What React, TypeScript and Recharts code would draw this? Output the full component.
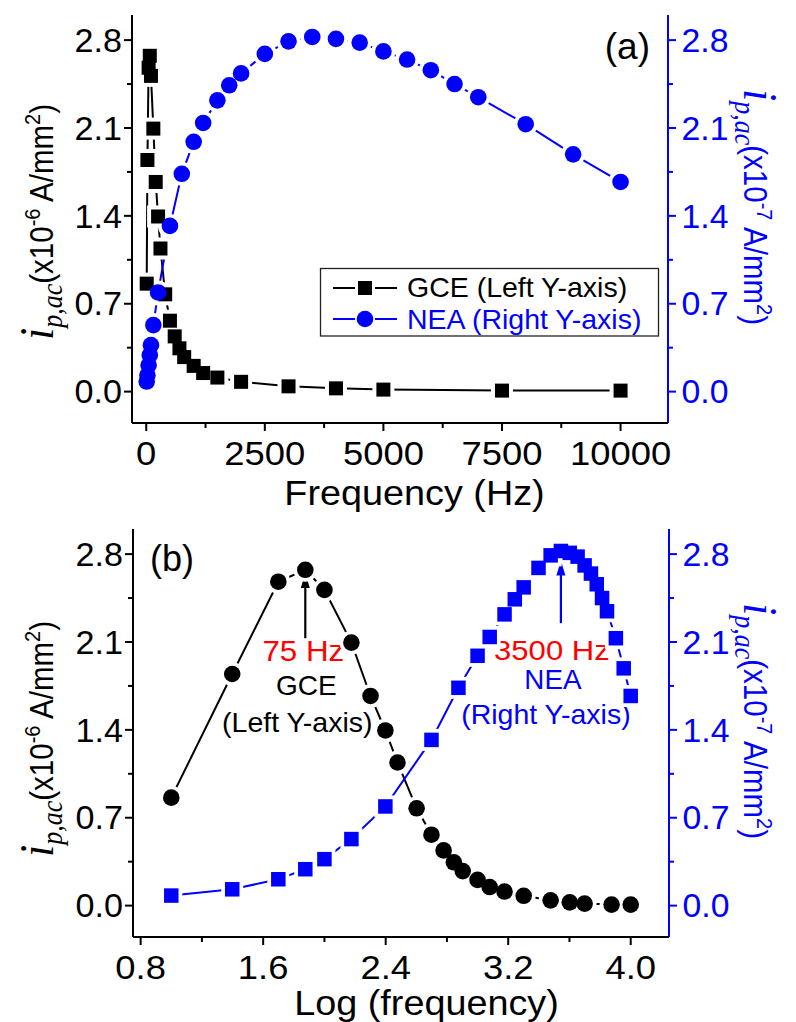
import { LineChart, Line, XAxis, YAxis, ReferenceLine } from "recharts";

const SANS = '"Liberation Sans", Arial, sans-serif';
const SERIF = '"Liberation Serif", "Times New Roman", serif';
const BLACK = "#000000";
const BLUE = "#0000ff";
const RED = "#ff0000";

// GCE electrode, left axis (x10^-6 A/mm2)
const gceFreq = [10, 25, 50, 75, 100, 150, 200, 250, 300, 400, 500, 600, 700, 800, 1000, 1200, 1500, 2000, 3000, 4000, 5000, 7500, 10000];
const gceCurrent = [0.86, 1.845, 2.58, 2.675, 2.515, 2.095, 1.67, 1.395, 1.14, 0.775, 0.565, 0.44, 0.345, 0.275, 0.205, 0.148, 0.112, 0.078, 0.042, 0.026, 0.016, 0.008, 0.008];

// NEA electrode, right axis (x10^-7 A/mm2)
const neaFreq = [10, 25, 50, 75, 100, 150, 250, 500, 750, 1000, 1200, 1500, 1750, 2000, 2500, 3000, 3500, 4000, 4500, 5000, 5500, 6000, 6500, 7000, 8000, 9000, 10000];
const neaCurrent = [0.08, 0.13, 0.21, 0.29, 0.37, 0.53, 0.79, 1.32, 1.735, 1.99, 2.14, 2.32, 2.44, 2.535, 2.69, 2.79, 2.825, 2.81, 2.78, 2.71, 2.645, 2.56, 2.45, 2.345, 2.13, 1.89, 1.67];

// ticks (blank label = minor tick)
const freqTicks = [0, 1250, 2500, 3750, 5000, 6250, 7500, 8750, 10000];
const freqLabels = ["0", "", "2500", "", "5000", "", "7500", "", "10000"];
const logTicks = [0.8, 1.2, 1.6, 2.0, 2.4, 2.8, 3.2, 3.6, 4.0];
const logLabels = ["0.8", "", "1.6", "", "2.4", "", "3.2", "", "4.0"];
const currentTicks = [0, 0.35, 0.7, 1.05, 1.4, 1.75, 2.1, 2.45, 2.8];
const currentLabels = ["0.0", "", "0.7", "", "1.4", "", "2.1", "", "2.8"];

// peak markers in panel (b): [frequency, arrow base, arrow tip]
const gcePeak = [75, 2.13, 2.65];
const neaPeak = [3500, 2.25, 2.75];

const currentDomain: [number, number] = [-0.25, 3.0];
const freqDomain: [number, number] = [-300, 11000];
const logDomain: [number, number] = [0.75, 4.25];

const topGce = gceFreq.map((f, i) => ({ x: f, y: gceCurrent[i] }));
const topNea = neaFreq.map((f, i) => ({ x: f, y: neaCurrent[i] }));
const logGce = gceFreq.map((f, i) => ({ x: Math.log10(f), y: gceCurrent[i] }));
const logNea = neaFreq.map((f, i) => ({ x: Math.log10(f), y: neaCurrent[i] }));

type Side = "top" | "bottom" | "left" | "right";

function makeTick(side: Side, ticks: number[], labels: string[], color: string, showText = true) {
  return (props: any) => {
    const { x, y, payload } = props;
    const i = ticks.findIndex((t) => Math.abs(t - payload.value) < 1e-6);
    const label = i >= 0 ? labels[i] : "";
    const len = label ? 8 : 5;
    const txt = { fill: color, fontFamily: SANS, fontSize: 32.5 };
    if (side === "bottom" || side === "top") {
      return (
        <g>
          <line x1={x} x2={x} y1={y} y2={y + len} stroke={color} strokeWidth={2} />
          {showText && label && (
            <text transform={`translate(${x},${y + 42}) scale(1.12,1)`} textAnchor="middle" {...txt}>
              {label}
            </text>
          )}
        </g>
      );
    }
    if (side === "left") {
      return (
        <g>
          <line x1={x - len} x2={x} y1={y} y2={y} stroke={color} strokeWidth={2} />
          {label && (
            <text transform={`translate(${x - 10},${y + 11.7}) scale(1.05,1)`} textAnchor="end" {...txt}>
              {label}
            </text>
          )}
        </g>
      );
    }
    return (
      <g>
        <line x1={x} x2={x + len} y1={y} y2={y} stroke={color} strokeWidth={2} />
        {label && (
          <text transform={`translate(${x + 13.5},${y + 11.7}) scale(1.04,1)`} textAnchor="start" {...txt}>
            {label}
          </text>
        )}
      </g>
    );
  };
}

const squareDot = (size: number, fill: string) => (p: any) =>
  p.cx == null ? (
    <g key={`e${p.index}`} />
  ) : (
    <rect key={`s${p.index}`} x={p.cx - size / 2} y={p.cy - size / 2} width={size} height={size} fill={fill} />
  );

const circleDot = (r: number, fill: string) => (p: any) =>
  p.cx == null ? <g key={`e${p.index}`} /> : <circle key={`c${p.index}`} cx={p.cx} cy={p.cy} r={r} fill={fill} />;

interface Note {
  text: string;
  color: string;
  dx: number;
  dy: number;
  size: number;
  sx: number;
}

const gceNotes: Note[] = [
  { text: "75 Hz", color: RED, dx: -2, dy: 23, size: 29, sx: 1.08 },
  { text: "GCE", color: BLACK, dx: 1, dy: 57, size: 27.5, sx: 1.02 },
  { text: "(Left Y-axis)", color: BLACK, dx: -8, dy: 94, size: 28.5, sx: 1 },
];
const neaNotes: Note[] = [
  { text: "3500 Hz", color: RED, dx: -9, dy: 37, size: 28.5, sx: 1.09 },
  { text: "NEA", color: BLUE, dx: -8, dy: 66, size: 27, sx: 1.03 },
  { text: "(Right Y-axis)", color: BLUE, dx: -15, dy: 101, size: 28.5, sx: 1 },
];

const arrowShape = (color: string, notes: Note[]) => (p: any) => {
  const x = p.x1;
  const tip = Math.min(p.y1, p.y2);
  const base = Math.max(p.y1, p.y2);
  return (
    <g>
      <line x1={x} x2={x} y1={base} y2={tip + 10} stroke={color} strokeWidth={2.2} />
      <polygon points={`${x},${tip} ${x - 4.5},${tip + 15} ${x + 4.5},${tip + 15}`} fill={color} />
      {notes.map((n) => (
        <text
          key={n.text}
          transform={`translate(${x + n.dx},${base + n.dy}) scale(${n.sx},1)`}
          textAnchor="middle"
          fill={n.color}
          fontFamily={SANS}
          fontSize={n.size}
        >
          {n.text}
        </text>
      ))}
    </g>
  );
};

function Panel(props: {
  height: number;
  top: number;
  xHeight: number;
  leftW: number;
  rightW: number;
  xDomain: [number, number];
  xTicks: number[];
  xLabels: string[];
  gce: { x: number; y: number }[];
  nea: { x: number; y: number }[];
  gceSquare: boolean;
  arrows?: boolean;
}) {
  const { height, top, xHeight, leftW, rightW, xDomain, xTicks, xLabels, gce, nea, gceSquare, arrows } = props;
  const gceHalo = gceSquare ? squareDot(22, "#fff") : circleDot(12, "#fff");
  const neaHalo = gceSquare ? circleDot(12, "#fff") : squareDot(22, "#fff");
  const gceMark = gceSquare ? squareDot(14, BLACK) : circleDot(8.3, BLACK);
  const neaMark = gceSquare ? circleDot(8.3, BLUE) : squareDot(14.5, BLUE);
  return (
    <LineChart width={796} height={height} margin={{ top, right: 0, bottom: 0, left: 0 }}>
      <XAxis
        xAxisId="b"
        dataKey="x"
        type="number"
        domain={xDomain}
        allowDataOverflow
        ticks={xTicks}
        interval={0}
        tickSize={0}
        tickMargin={0}
        tickLine={false}
        tick={makeTick("bottom", xTicks, xLabels, BLACK)}
        axisLine={{ stroke: BLACK, strokeWidth: 2 }}
        height={xHeight}
      />
      <XAxis
        xAxisId="t"
        orientation="top"
        dataKey="x"
        type="number"
        domain={xDomain}
        allowDataOverflow
        ticks={xTicks}
        interval={0}
        tickSize={0}
        tickMargin={0}
        tickLine={false}
        tick={makeTick("top", xTicks, xLabels, BLACK, false)}
        axisLine={{ stroke: BLACK, strokeWidth: 2 }}
        height={0}
      />
      <YAxis
        yAxisId="l"
        type="number"
        domain={currentDomain}
        allowDataOverflow
        ticks={currentTicks}
        interval={0}
        tickSize={0}
        tickMargin={0}
        tickLine={false}
        tick={makeTick("left", currentTicks, currentLabels, BLACK)}
        axisLine={{ stroke: BLACK, strokeWidth: 2 }}
        width={leftW}
      />
      <YAxis
        yAxisId="r"
        orientation="right"
        type="number"
        domain={currentDomain}
        allowDataOverflow
        ticks={currentTicks}
        interval={0}
        tickSize={0}
        tickMargin={0}
        tickLine={false}
        tick={makeTick("right", currentTicks, currentLabels, BLUE)}
        axisLine={{ stroke: BLUE, strokeWidth: 2 }}
        width={rightW}
      />
      <Line xAxisId="b" yAxisId="l" data={gce} dataKey="y" stroke={BLACK} strokeWidth={2} dot={gceHalo} activeDot={false} isAnimationActive={false} />
      <Line xAxisId="b" yAxisId="r" data={nea} dataKey="y" stroke={BLUE} strokeWidth={2} dot={neaHalo} activeDot={false} isAnimationActive={false} />
      <Line xAxisId="b" yAxisId="l" data={gce} dataKey="y" stroke="none" dot={gceMark} activeDot={false} isAnimationActive={false} />
      <Line xAxisId="b" yAxisId="r" data={nea} dataKey="y" stroke="none" dot={neaMark} activeDot={false} isAnimationActive={false} />
      {arrows && (
        <ReferenceLine
          xAxisId="b"
          yAxisId="l"
          segment={[
            { x: Math.log10(gcePeak[0]), y: gcePeak[1] },
            { x: Math.log10(gcePeak[0]), y: gcePeak[2] },
          ]}
          shape={arrowShape(BLACK, gceNotes)}
        />
      )}
      {arrows && (
        <ReferenceLine
          xAxisId="b"
          yAxisId="r"
          segment={[
            { x: Math.log10(neaPeak[0]), y: neaPeak[1] },
            { x: Math.log10(neaPeak[0]), y: neaPeak[2] },
          ]}
          shape={arrowShape(BLUE, neaNotes)}
        />
      )}
    </LineChart>
  );
}

function CurrentTitle({ x, y, side, exp, color }: { x: number; y: number; side: "left" | "right"; exp: string; color: string }) {
  const rot = side === "left" ? -90 : 90;
  return (
    <text
      transform={`translate(${x},${y}) rotate(${rot}) scale(1,1.1)`}
      textAnchor="middle"
      fill={color}
      fontFamily={SANS}
      fontSize={29.5}
    >
      <tspan fontFamily={SERIF} fontStyle="italic" fontSize={44}>
        i
      </tspan>
      <tspan fontFamily={SERIF} fontStyle="italic" fontSize={26} dy={8}>
        p,ac
      </tspan>
      <tspan dy={-8}>(x10</tspan>
      <tspan fontSize={20} dy={-12}>
        {exp}
      </tspan>
      <tspan dy={12}>{" A/mm"}</tspan>
      <tspan fontSize={20} dy={-12}>
        2
      </tspan>
      <tspan dy={12}>)</tspan>
    </text>
  );
}

function Overlay() {
  return (
    <svg width={796} height={1022} style={{ position: "absolute", left: 0, top: 0, pointerEvents: "none" }}>
      {/* panel (a) */}
      <text x={650} y={59} textAnchor="end" fontFamily={SANS} fontSize={37} fill={BLACK}>
        (a)
      </text>
      <CurrentTitle x={53} y={222} side="left" exp="-6" color={BLACK} />
      <CurrentTitle x={744} y={207} side="right" exp="-7" color={BLUE} />
      <text transform="translate(414.5,505) scale(1.08,1)" textAnchor="middle" fontFamily={SANS} fontSize={35} fill={BLACK}>
        Frequency (Hz)
      </text>
      <g>
        <rect x={320.5} y={268.5} width={338} height={67.5} fill="none" stroke="#222" strokeWidth={1.3} />
        <line x1={333} x2={355} y1={288} y2={288} stroke={BLACK} strokeWidth={2} />
        <line x1={375} x2={397} y1={288} y2={288} stroke={BLACK} strokeWidth={2} />
        <rect x={358} y={281} width={14} height={14} fill={BLACK} />
        <text x={407} y={297} fontFamily={SANS} fontSize={28.5} fill={BLACK}>
          GCE (Left Y-axis)
        </text>
        <line x1={333} x2={355} y1={319} y2={319} stroke={BLUE} strokeWidth={2} />
        <line x1={375} x2={397} y1={319} y2={319} stroke={BLUE} strokeWidth={2} />
        <circle cx={365} cy={319} r={8.3} fill={BLUE} />
        <text x={407} y={329} fontFamily={SANS} fontSize={28.5} fill={BLUE}>
          NEA (Right Y-axis)
        </text>
      </g>
      {/* panel (b) */}
      <text x={150} y={571} textAnchor="start" fontFamily={SANS} fontSize={36} fill={BLACK}>
        (b)
      </text>
      <CurrentTitle x={53} y={739} side="left" exp="-6" color={BLACK} />
      <CurrentTitle x={744} y={721} side="right" exp="-7" color={BLUE} />
      <text transform="translate(426.5,1015) scale(1.08,1)" textAnchor="middle" fontFamily={SANS} fontSize={35} fill={BLACK}>
        Log (frequency)
      </text>
    </svg>
  );
}

export default function App() {
  return (
    <div style={{ position: "absolute", left: 0, top: 0, width: 796, height: 1022, background: "#fff", overflow: "hidden" }}>
      <div style={{ position: "absolute", left: 0, top: 0 }}>
        <Panel
          height={510}
          top={15}
          xHeight={87}
          leftW={132}
          rightW={128}
          xDomain={freqDomain}
          xTicks={freqTicks}
          xLabels={freqLabels}
          gce={topGce}
          nea={topNea}
          gceSquare
        />
      </div>
      <div style={{ position: "absolute", left: 0, top: 510 }}>
        <Panel
          height={512}
          top={19}
          xHeight={85}
          leftW={133}
          rightW={127}
          xDomain={logDomain}
          xTicks={logTicks}
          xLabels={logLabels}
          gce={logGce}
          nea={logNea}
          gceSquare={false}
          arrows
        />
      </div>
      <Overlay />
    </div>
  );
}
